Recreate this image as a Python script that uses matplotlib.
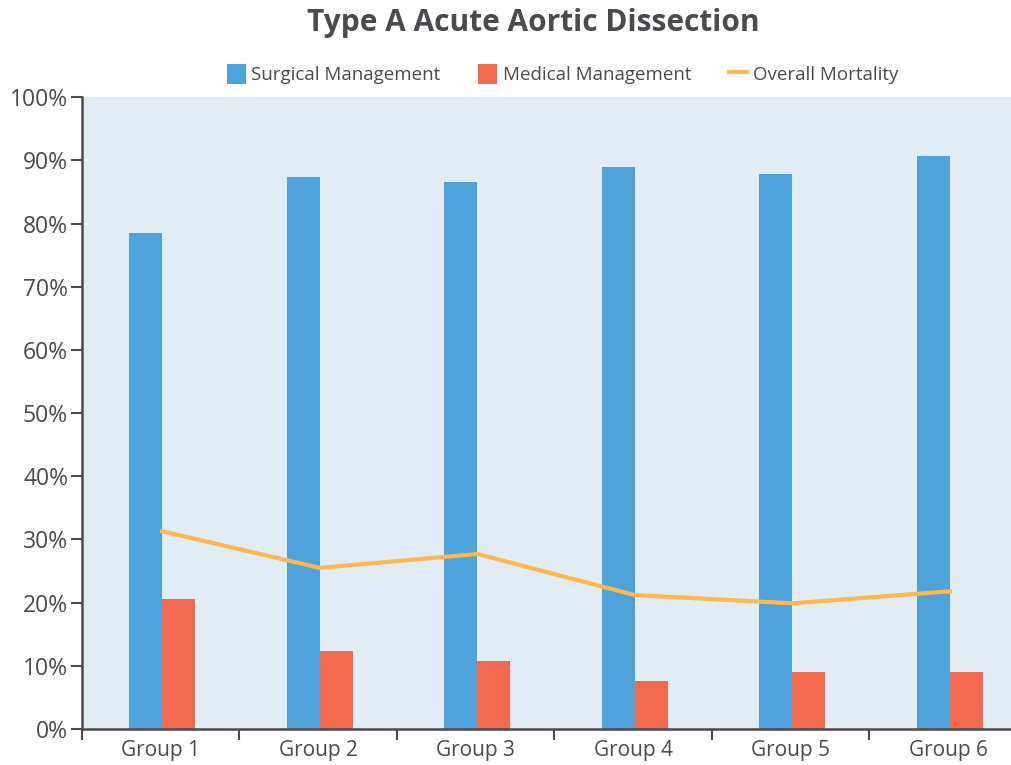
import numpy as np
from matplotlib import pyplot as plt
from matplotlib.ticker import FixedLocator, PercentFormatter

groups = ["Group 1", "Group 2", "Group 3", "Group 4", "Group 5", "Group 6"]
surgical = [78.5, 87.3, 86.5, 89.0, 87.9, 90.7]
medical = [20.6, 12.3, 10.8, 7.6, 9.0, 9.0]
mortality = [31.3, 25.5, 27.7, 21.2, 19.9, 21.8]

blue = "#50A3DA"
red = "#F16A50"
orange = "#FDB84F"
bg = "#E1ECF5"
ink = "#4A4A4F"

plt.rcParams['font.family'] = ['Open Sans', 'DejaVu Sans']

fig = plt.figure(figsize=(10.12, 7.65), dpi=100)
ax = fig.add_axes([0.081, 0.047, 0.919, 0.826])
ax.set_facecolor(bg)

x = np.arange(len(groups))
w = 0.21
b1 = ax.bar(x - w / 2 + 0.01, surgical, w, color=blue, zorder=2)
b2 = ax.bar(x + w / 2 + 0.01, medical, w, color=red, zorder=2)
l1, = ax.plot(x + 0.01, mortality, color=orange, lw=3, zorder=3)

ax.set_xlim(-0.5, 5.405)
ax.set_ylim(0, 100)
ax.set_yticks(np.arange(0, 101, 10))
ax.yaxis.set_major_formatter(PercentFormatter(decimals=0))
ax.set_xticks(x)
ax.set_xticklabels(groups)
ax.xaxis.set_minor_locator(FixedLocator(np.arange(-0.5, 6, 1)))
ax.tick_params(axis='x', which='major', length=0, pad=8, labelsize=15, colors=ink)
ax.tick_params(axis='x', which='minor', length=8, width=1.5, color=ink, direction='out')
ax.tick_params(axis='y', length=8, width=1.5, color=ink, labelsize=16.5, labelcolor=ink, pad=2)

for s in ['top', 'right']:
    ax.spines[s].set_visible(False)
for s in ['left', 'bottom']:
    ax.spines[s].set_color(ink)
    ax.spines[s].set_linewidth(1.8)

fig.text(0.527, 0.97, "Type A Acute Aortic Dissection", ha='center', va='center',
         fontsize=21.5, fontweight='bold', color=ink)
fig.legend([b1, b2, l1], ["Surgical Management", "Medical Management", "Overall Mortality"],
           loc='center', bbox_to_anchor=(0.556, 0.903), ncol=3, frameon=False,
           fontsize=13.5, handlelength=1.0, handleheight=1.3, handletextpad=0.3,
           columnspacing=2.0, labelcolor=ink)

fig.savefig("out.png", dpi=100)
